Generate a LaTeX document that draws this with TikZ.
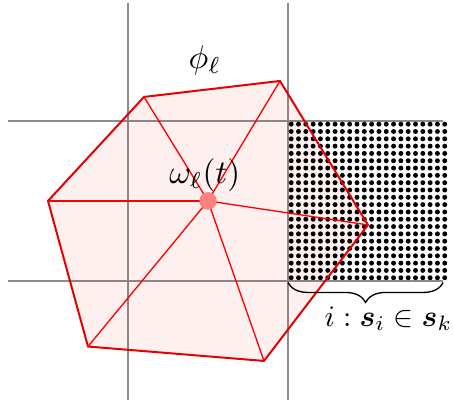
\documentclass[tikz,border=0pt]{standalone}
\usepackage{amsmath,amssymb,bm}
\usepackage{xcolor}
\usepackage{tikz}
\usetikzlibrary{positioning, calc, decorations.pathreplacing}
\definecolor{cellline}{HTML}{8c8c8c}

\begin{document}
\begin{tikzpicture}[
  x=1.7cm, y=1.7cm,
  gridln/.style={cellline, line width=0.5pt},
  elemedge/.style={red!90!black, line width=0.6pt},
  spoke/.style={red, line width=0.4pt},
  sample/.style={circle, fill=black, inner sep=0pt, minimum size=1.5pt}]
\useasboundingbox (-0.8,-0.7625) rectangle (2.0375,1.756);

% background grid of cells
\foreach \gx in {0,1}
 {
  \draw[gridln] (\gx,1.74)--(\gx,-0.745);
 }
\foreach \gy in {0,1}
 {
  \draw[gridln] (-0.75,\gy)--(1.97,\gy);
 }

% element polygon
\coordinate (v1) at (0.1,1.15);
\coordinate (v2) at (0.95,1.25);
\coordinate (v3) at (1.5,0.35);
\coordinate (v4) at (0.85,-0.5);
\coordinate (v5) at (-0.25,-0.41);
\coordinate (v6) at (-0.5,0.5);
\fill[red, fill opacity=0.06] (v1)--(v2)--(v3)--(v4)--(v5)--(v6)--cycle;

% fine sample points
\foreach \i in {0,...,21}
 \foreach \j in {0,...,21}
  {
   \node[sample] at ({1.02+0.0457*\i},{0.02+0.0457*\j}) {};
  }

\draw[elemedge] (v1)--(v2)--(v3)--(v4)--(v5)--(v6)--cycle;

\node[circle, fill=red!50, inner sep=0pt, minimum size=5.2pt] (ctr) at (0.5,0.5) {};
\foreach \v in {v1,v2,v3,v4,v5,v6}
 {
  \draw[spoke] (ctr.center)--(\v);
 }
\fill[red!50] (ctr) circle (2.6pt);

\node (phi) at (0.48,1.38) {$\phi_\ell$};
\node (omega) at (0.48,0.66) {$\omega_\ell(t)$};

% brace under the samples
\coordinate (bl) at (1.0,-0.01);
\coordinate (br) at (1.97,-0.01);
\draw[decorate, decoration={brace, mirror, amplitude=6pt}] (bl)--(br);
\node[anchor=east, inner sep=0pt, scale=0.9] (lbl) at (2.03,-0.235) {$i:\bm{s}_i\in\bm{s}_k$};
\end{tikzpicture}
\end{document}
